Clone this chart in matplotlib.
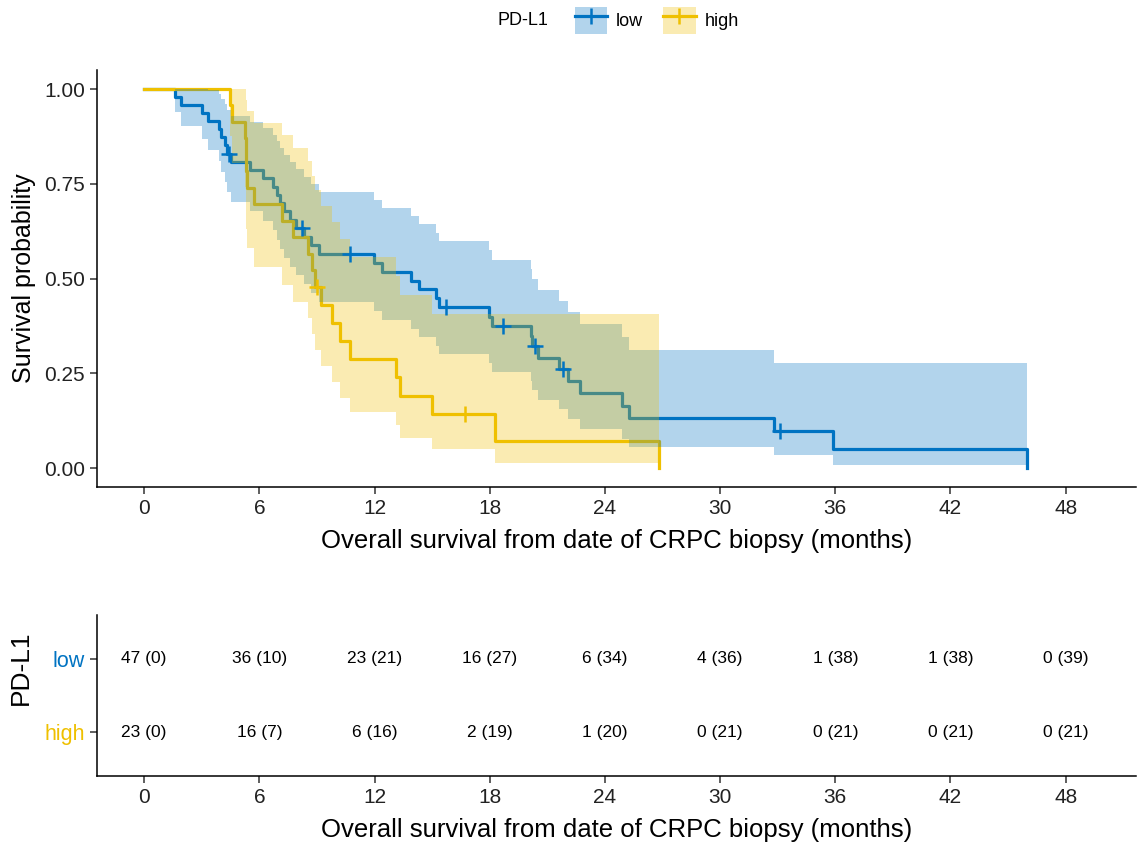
import numpy as np
import matplotlib.pyplot as plt
from matplotlib.lines import Line2D
from matplotlib.patches import Patch

plt.rcParams["font.family"] = ["Liberation Sans", "DejaVu Sans"]

# ------------------------------------------------------------
# DATA: follow-up (months) and status (1 = death, 0 = censored)
# ------------------------------------------------------------

LOW_TIME = [1.6, 1.9, 3.0, 3.3, 3.9, 4.0, 4.2, 4.3, 4.4, 4.5, 5.5,
            6.2, 6.7, 6.9, 7.1, 7.3, 7.6, 7.9, 8.2, 8.35, 8.7, 9.1, 10.7, 11.95,
            12.4, 13.9, 14.3, 15.2, 15.35, 15.7, 17.95,
            18.1, 18.7, 20.15, 20.2, 20.35, 20.5, 21.6, 21.8, 22.1, 22.7,
            24.9, 25.25, 32.8, 33.1, 35.9, 46.0]
LOW_STATUS = [1, 1, 1, 1, 1, 1, 1, 1, 0, 1, 1,
              1, 1, 1, 1, 1, 1, 1, 0, 1, 1, 1, 0, 1,
              1, 1, 1, 1, 1, 0, 1,
              1, 0, 1, 1, 0, 1, 1, 0, 1, 1,
              1, 1, 1, 0, 1, 1]

HIGH_TIME = [4.45, 4.55, 5.25, 5.3, 5.3, 5.35, 5.7, 7.2, 7.75, 8.55, 8.75,
             8.9, 9.0, 9.2, 9.8, 10.2, 10.7, 13.1, 13.3, 15.0, 16.7, 18.25, 26.8]
HIGH_STATUS = [1, 1, 1, 1, 1, 1, 1, 1, 1, 1, 1,
               1, 0, 1, 1, 1, 1, 1, 1, 1, 0, 1, 1]

GROUPS = ["low", "high"]
COLORS = {"low": "#0073C2", "high": "#EFC000"}

# number at risk (cumulative events) table
RISK_TIMES = [0, 6, 12, 18, 24, 30, 36, 42, 48]
LOW_AT_RISK = [47, 36, 23, 16, 6, 4, 1, 1, 0]
LOW_EVENTS = [0, 10, 21, 27, 34, 36, 38, 38, 39]
HIGH_AT_RISK = [23, 16, 6, 2, 1, 0, 0, 0, 0]
HIGH_EVENTS = [0, 7, 16, 19, 20, 21, 21, 21, 21]

XLAB = "Overall survival from date of CRPC biopsy (months)"


# ------------------------------------------------------------
# KAPLAN-MEIER WITH LOG-TRANSFORMED GREENWOOD CI
# ------------------------------------------------------------

def kaplan_meier(times, status):
    t = np.asarray(times, dtype=float)
    s = np.asarray(status)
    ev = np.unique(t[s == 1])
    n = np.array([(t >= u).sum() for u in ev], dtype=float)
    d = np.array([((t == u) & (s == 1)).sum() for u in ev], dtype=float)
    surv = np.cumprod(1 - d / n)
    with np.errstate(divide="ignore", invalid="ignore"):
        se = np.sqrt(np.cumsum(d / (n * (n - d))))
        lo = surv * np.exp(-1.96 * se)
        hi = np.minimum(surv * np.exp(1.96 * se), 1.0)
    x = np.concatenate([[0.0], ev])
    y = np.concatenate([[1.0], surv])
    lo = np.concatenate([[1.0], lo])
    hi = np.concatenate([[1.0], hi])
    if t.max() > x[-1]:
        x = np.append(x, t.max())
        y = np.append(y, y[-1])
        lo = np.append(lo, lo[-1])
        hi = np.append(hi, hi[-1])
    for i in range(1, len(x)):
        if not np.isfinite(hi[i]) or y[i] == 0:
            lo[i] = lo[i - 1]
            hi[i] = hi[i - 1]
    cens = t[s == 0]
    idx = np.searchsorted(x, cens, side="right") - 1
    return x, y, lo, hi, cens, y[idx]


curves = {
    "low": kaplan_meier(LOW_TIME, LOW_STATUS),
    "high": kaplan_meier(HIGH_TIME, HIGH_STATUS),
}

# ------------------------------------------------------------
# FIGURE
# ------------------------------------------------------------

fig = plt.figure(figsize=(11.38, 8.44), dpi=100)
ax = fig.add_axes([0.0852, 0.423, 0.913, 0.494])
tab = fig.add_axes([0.0852, 0.0806, 0.913, 0.1907])

for g in GROUPS:
    x, y, lo, hi, cx, cy = curves[g]
    ax.plot(x, y, drawstyle="steps-post", color=COLORS[g], lw=2.3, zorder=2)
for i, g in enumerate(GROUPS):
    x, y, lo, hi, cx, cy = curves[g]
    ax.fill_between(x, lo, hi, step="post", color=COLORS[g], alpha=0.3,
                    lw=0, zorder=3 + i)
for g in GROUPS:
    x, y, lo, hi, cx, cy = curves[g]
    ax.plot(cx, cy, ls="none", marker="+", ms=12, mew=1.8,
            color=COLORS[g], zorder=6)

ticks = np.arange(0, 49, 6)
for a in (ax, tab):
    a.set_xlim(-2.46, 51.66)
    a.set_xticks(ticks)
    a.set_xticklabels([str(t) for t in ticks], fontsize=15)
    a.spines["top"].set_visible(False)
    a.spines["right"].set_visible(False)
    a.spines["left"].set_linewidth(1.1)
    a.spines["bottom"].set_linewidth(1.1)
    a.tick_params(length=5, width=1.1, colors="#333333", labelcolor="#222222")
    a.set_xlabel(XLAB, fontsize=18.5, labelpad=8)

ax.set_ylim(-0.05, 1.05)
yt = [0, 0.25, 0.5, 0.75, 1.0]
ax.set_yticks(yt)
ax.set_yticklabels([f"{v:.2f}" for v in yt], fontsize=15)
ax.set_ylabel("Survival probability", fontsize=18, labelpad=6)

# risk table
tab.set_ylim(0.4, 2.6)
tab.set_yticks([1, 2])
tab.set_yticklabels(["high", "low"], fontsize=15.5)
for lbl, g in zip(tab.get_yticklabels(), ["high", "low"]):
    lbl.set_color(COLORS[g])
tab.set_ylabel("PD-L1", fontsize=19)
tab.yaxis.set_label_coords(-0.062, 0.67)
for t, nr, ne in zip(RISK_TIMES, LOW_AT_RISK, LOW_EVENTS):
    tab.text(t, 2, f"{nr} ({ne})", ha="center", va="center", fontsize=12.5)
for t, nr, ne in zip(RISK_TIMES, HIGH_AT_RISK, HIGH_EVENTS):
    tab.text(t, 1, f"{nr} ({ne})", ha="center", va="center", fontsize=12.5)

# legend on top
fig.text(0.437, 0.976, "PD-L1", fontsize=13, va="center", ha="left")
handles = [
    (Patch(facecolor=COLORS[g], alpha=0.3, lw=0),
     Line2D([], [], color=COLORS[g], lw=2.3, marker="+", ms=12, mew=1.8))
    for g in GROUPS
]
fig.legend(handles, GROUPS, loc="center left", bbox_to_anchor=(0.505, 0.976),
           ncol=2, frameon=False, fontsize=13, handlelength=1.8,
           handleheight=1.9, handletextpad=0.5, columnspacing=1.1,
           borderpad=0, borderaxespad=0)

fig.savefig("out.png", dpi=100)
